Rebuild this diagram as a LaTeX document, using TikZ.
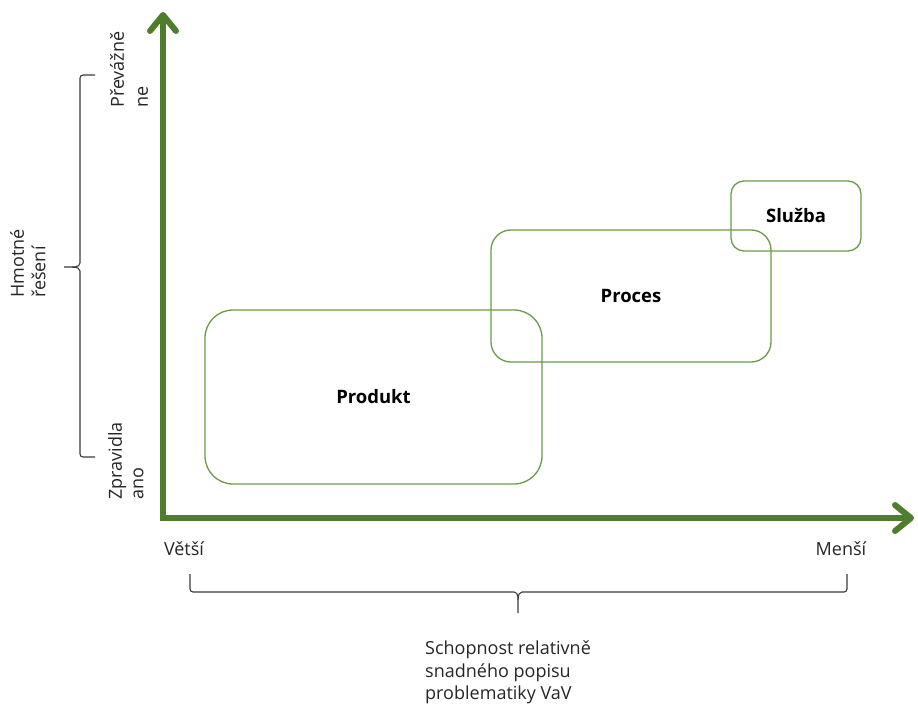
\documentclass[tikz,border=0pt]{standalone}
\usepackage{fontspec}
\setmainfont{Open Sans}
\usetikzlibrary{arrows.meta}
\definecolor{axisgreen}{HTML}{4E7D2C}
\definecolor{boxgreen}{HTML}{6A9A4A}
\definecolor{bracegray}{HTML}{3A3A3A}
\begin{document}
\begin{tikzpicture}[x=1pt, y=-1pt,
  axisline/.style={draw=axisgreen, line width=6pt},
  box/.style={draw=boxgreen, line width=1.3pt, inner sep=0pt, font=\fontsize{18.5}{22}\selectfont\bfseries},
  bracket/.style={draw=bracegray, line width=1.1pt, rounded corners=3pt},
  lbl/.style={font=\fontsize{18}{22}\selectfont, inner sep=0pt, text=black!85},
  sidelbl/.style={lbl, rotate=90, align=left, anchor=north west}
]
\useasboundingbox (0,0) rectangle (918,706);

% axes
\coordinate (origin) at (163,518);
\coordinate (ytip) at (163,12);
\coordinate (xtip) at (914,518);
\draw[axisline, line join=miter,
  {Straight Barb[length=16pt, width=26pt, round]}-{Straight Barb[length=16pt, width=26pt, round]}]
  (ytip) -- (origin) -- (xtip);

% overlapping categories
\node[box, minimum width=337pt, minimum height=174pt, rounded corners=28pt] (produkt) at (373.5,397) {Produkt};
\node[box, minimum width=280pt, minimum height=132pt, rounded corners=20pt] (proces) at (631,296) {Proces};
\node[box, minimum width=130pt, minimum height=70pt, rounded corners=13pt] (sluzba) at (796,216) {Služba};

% horizontal axis labels
\node[lbl] (vetsi) at (184,549) {Větší};
\node[lbl] (mensi) at (841,549) {Menší};

% bottom brace
\coordinate (bl) at (190,574);
\coordinate (br) at (847,574);
\coordinate (btip) at (518,613);
\draw[bracket] (bl) -- (190,592) -- (511,592) .. controls (516,592) and (518,594) .. (518,600) -- (btip);
\draw[bracket] (br) -- (847,592) -- (525,592) .. controls (520,592) and (518,594) .. (518,600);
\node[lbl, align=left, anchor=north west, font=\fontsize{18}{22.5}\selectfont] (xtitle) at (425,641)
  {Schopnost relativně\\snadného popisu\\problematiky VaV};

% left brace
\coordinate (lt) at (95,75);
\coordinate (lb) at (95,457);
\coordinate (ltip) at (64,267);
\draw[bracket] (lt) -- (80,75) -- (80,260) .. controls (80,265) and (78,267) .. (72,267) -- (ltip);
\draw[bracket] (lb) -- (80,457) -- (80,274) .. controls (80,269) and (78,267) .. (72,267);

% vertical axis labels
\node[sidelbl, font=\fontsize{18}{21.5}\selectfont] (ytitle) at (10,298) {Hmotné\\řešení};
\node[sidelbl, font=\fontsize{18}{24}\selectfont] (ne) at (110,108) {Převážně\\ne};
\node[sidelbl, font=\fontsize{18}{21.5}\selectfont] (ano) at (108,500) {Zpravidla\\ano};
\end{tikzpicture}
\end{document}
